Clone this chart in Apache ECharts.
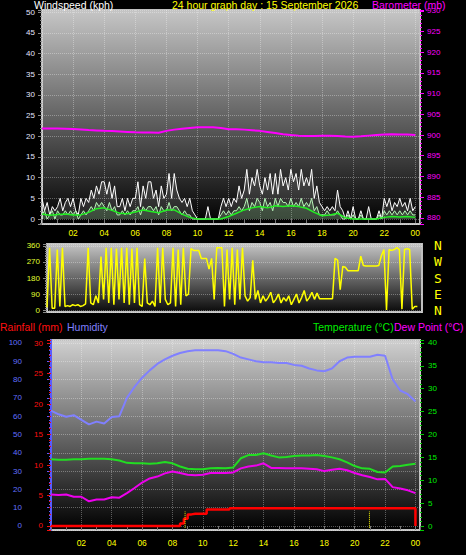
<!DOCTYPE html>
<html><head><meta charset="utf-8">
<script src="https://cdn.jsdelivr.net/npm/echarts@6/dist/echarts.min.js"></script>
<style>html,body{margin:0;padding:0;background:#000;}#c{width:466px;height:555px;}</style>
</head><body><div id="c"></div>
<script>
// ---------- text ----------
const titleWind = 'Windspeed (kph)';
const titleMain = '24 hour graph day : 15 September 2026';
const titleBaro = 'Barometer (mb)';
const titleRain = 'Rainfall (mm)';
const titleHum = 'Humidity';
const titleTemp = 'Temperature (°C)';
const titleDew = 'Dew Point (°C)';
const hourLabels = ['02','04','06','08','10','12','14','16','18','20','22','00'];
const compassLabels = ['N','E','S','W','N']; // 0,90,180,270,360

// ---------- data ----------
// gust & wind: every 10 minutes from 00:00 to 24:00 (kph)
const gust = [5,2,4,1,3,2, 3,5,2,4,5,3, 5,2,1,5,3,5, 4,7,5,8,6,9, 9,6,9,5,8,3, 3,5,2,5,3,5,
  5,9,3,8,5,9, 9,5,7,3,8,5, 6,11,5,11,7,5, 4,5,3,5,2,1, 0,0,0,0,3,0, 0,0,0,3,5,3,
  5,3,5,4,8,5, 7,12,6,10,8,12, 8,6,10,7,11,6, 11,6,12,8,10,7, 12,9,11,7,12,8, 10,8,12,5,8,4,
  3,2,3,2,3,2, 7,3,2,0,2,0, 3,0,0,2,0,0, 3,0,0,0,2,0, 5,3,5,2,4,3, 5,3,4,2,5,2, 3];
const wind = [1,2,0,1,2,0, 2,1,1,2,1,2, 1,2,0,1,2,1, 2,3,2,4,3,4, 3,2,4,2,3,1, 1,2,1,2,1,2,
  2,3,1,3,2,3, 3,2,3,1,3,2, 2,4,2,3,3,2, 1,2,1,1,0,0, 0,0,0,0,0,0, 0,0,0,1,2,1,
  2,1,2,2,3,2, 3,5,2,4,3,5, 4,2,5,3,4,2, 5,3,5,4,4,3, 5,3,4,3,5,3, 4,3,5,2,3,1,
  1,1,2,1,1,1, 2,1,0,0,1,0, 1,0,0,1,0,0, 0,0,0,0,1,0, 2,1,2,1,2,1, 2,1,2,1,2,1, 1];
// average wind: every 30 minutes (kph)
const avgWind = [1.2,0.9,1.1,1.2,1.0,1.0,1.6,2.5,2.7,2.1,1.4,1.3,1.7,2.2,1.8,1.5,2.2,2.2,1.2,0.4,
  0,0,0,0,0.6,1.4,2.2,2.7,3.0,2.7,3.2,3.0,3.2,3.0,2.6,1.6,0.8,1.0,1.4,0.3,0,0,0,0,0.4,0.6,0.5,0.6,0.4];
// barometer: every 30 minutes (mb)
const baro = [901.6,901.6,901.55,901.5,901.45,901.35,901.2,901.1,901.0,900.95,900.85,900.75,900.65,900.6,900.6,900.55,
  901.0,901.3,901.5,901.7,901.85,901.9,901.85,901.7,901.4,901.4,901.3,901.15,901.0,900.75,900.5,900.2,900.0,
  899.85,899.75,899.75,899.8,899.8,899.75,899.65,899.6,899.7,899.85,900.0,900.15,900.2,900.15,900.1,900.0];
// wind direction: every 10 minutes (degrees)
const direction = [15,350,10,10,340,20, 350,20,25,20,30,25, 30,20,25,35,350,40, 30,80,40,300,60,350,
  40,350,30,345,60,350, 40,350,30,345,40,350, 30,20,290,40,30,50, 20,350,40,350,60,30,
  40,350,20,340,30,350, 80,90,345,335,335,335, 290,290,290,230,290,60, 350,350,350,20,340,60,
  350,30,340,60,350,80, 50,70,280,60,110,40, 80,50,70,100,40,60, 90,40,70,50,80,30,
  60,90,40,70,110,50, 70,100,60,95,63,63, 63,63,63,63,290,280, 114,245,240,221,221,221,
  221,221,303,250,247,247, 247,247,247,250,305,340, 0,340,335,340,350,340, 5,340,345,340,5,20, 20];
// humidity, temperature, dew point: every 30 minutes
const humidity = [63,61,59.7,60.5,58,55.5,57,56,59.5,60,70,76,81,85,88.5,91,93,94.5,95.5,96,96,96,96,95.5,
  94,92,91,90,89.5,89.5,89,89,88,87.5,86,85,84.5,86,90,92,92.5,92.5,92.5,93.5,93,80,74,72,68];
const temperature = [14.6,14.5,14.5,14.6,14.6,14.7,14.7,14.7,14.6,14.3,13.8,13.7,13.7,13.6,13.7,14.0,13.7,13.0,12.5,12.4,
  12.4,12.6,12.7,12.6,12.8,14.8,15.5,15.5,15.9,15.4,15.0,15.1,15.3,15.4,15.4,15.5,15.3,15.0,14.6,13.9,
  13.1,12.6,12.5,11.8,11.7,13.0,13.1,13.4,13.6];
const dewPoint = [6.9,6.8,6.9,6.4,6.4,5.4,5.8,5.8,6.3,6.2,7.2,8.3,9.5,10.4,10.8,11.5,11.9,11.6,11.2,11.1,
  11.2,11.6,11.6,11.6,11.7,12.6,13.0,13.2,13.7,12.7,12.7,12.6,12.6,12.6,12.5,12.4,12.0,12.3,12.5,12.2,
  11.6,11.1,10.7,10.2,10.3,8.5,8.2,7.8,7.2];
// rainfall: every 15 minutes (mm)
const rainfall = [0,0,0,0,0,0,0,0,0,0, 0,0,0,0,0,0,0,0,0,0, 0,0,0,0,0,0,0,0,0,0, 0,0,0,0,
  0.4,1.2,1.9,2.0,2.0,2.0,2.0, 2.7,2.7,2.7,2.7,2.7,2.7,
  2.9,2.9,2.9,2.9,2.9,2.9,2.9,2.9,2.9,2.9,2.9,2.9, 2.9,2.9,2.9,2.9,2.9,2.9,2.9,2.9,2.9,2.9,2.9,2.9,
  2.9,2.9,2.9,2.9,2.9,2.9,2.9,2.9,2.9,2.9,2.9,2.9, 2.9,2.9,2.9,2.9,2.9,2.9,2.9,2.9,2.9,2.9,2.9,2.9, 2.9, 0];
// yellow dotted markers (hours) and their span on rainfall scale
const markerHours = [8.83, 20.97];
const markerSpan = [-0.3, 2.4];

// ---------- build ----------
const toPairs = (arr, step) => arr.map((v, i) => [Math.round(i * step * 10000) / 10000, v]);
const grad = (c0, c1) => new echarts.graphic.LinearGradient(0, 0, 0, 1, [{offset: 0, color: c0}, {offset: 1, color: c1}]);
const isMult = (v, m) => Math.abs(v / m - Math.round(v / m)) < 1e-6;
const FONT = 'Liberation Sans';
const LABEL_SIZE = 8;
const dotted = {color: 'rgba(255,255,255,0.32)', type: 'dotted', width: 1};

function hourFmt(v) {
  if (!isMult(v, 2)) return '';
  const r = Math.round(v);
  if (r <= 0) return '';
  return hourLabels[r / 2 - 1] || '';
}
function xAxisFor(gi, showLabel, margin, showSplit) {
  return {
    type: 'value', gridIndex: gi, min: 0, max: 24.3, minInterval: 2, maxInterval: 2,
    axisLine: {show: false},
    axisTick: {show: showLabel, length: 4, lineStyle: {color: '#777'}},
    minorTick: {show: showLabel, splitNumber: 2, length: 4, lineStyle: {color: '#777'}},
    axisLabel: {show: showLabel, color: '#ffff00', fontSize: LABEL_SIZE + 0.5, fontFamily: FONT, margin: margin, formatter: hourFmt,
      showMinLabel: false, showMaxLabel: false},
    splitLine: {show: showSplit, lineStyle: dotted}
  };
}
function yAxisFor(o) {
  const step = o.step;
  return Object.assign({
    type: 'value', minInterval: step, maxInterval: step,
    axisLine: {show: false},
    axisTick: {show: true, length: 4, lineStyle: {color: o.tick}},
    minorTick: {show: true, splitNumber: o.minor || 5, length: 2, lineStyle: {color: o.tick}},
    axisLabel: {color: o.color, fontSize: LABEL_SIZE, fontFamily: FONT, margin: o.margin,
      formatter: v => isMult(v, step) ? String(Math.round(v)) : ''},
    splitLine: {show: !!o.split, lineStyle: dotted}
  }, o.extra || {});
}

const texts = [
  [titleWind, 34, 5, '#ffffff'], [titleMain, 172, 5, '#ffff00'], [titleBaro, 372, 5, '#ff00ff'],
  [titleRain, 0, 327, '#ff1010'], [titleHum, 67, 327, '#8080ff'], [titleTemp, 313, 327, '#00ee00'], [titleDew, 394, 327, '#ff00ff']
];

const option = {
  backgroundColor: '#000',
  animation: false,
  graphic: texts.map(t => ({type: 'text', left: t[1], top: t[2] - 6, silent: true,
    style: {text: t[0], fill: t[3], font: '10.5px "' + FONT + '"'}})),
  grid: [
    {left: 42, top: 10, width: 378, height: 214, show: true, backgroundColor: grad('#c6c6c6', '#000'), borderColor: '#c0c0c0', borderWidth: 2},
    {left: 47, top: 244, width: 375, height: 68, show: true, backgroundColor: grad('#c4c4c4', '#0a0a0a'), borderColor: '#c0c0c0', borderWidth: 2},
    {left: 51, top: 340, width: 369, height: 190, show: true, backgroundColor: grad('#d0d0d0', '#000'), borderColor: '#c0c0c0', borderWidth: 2}
  ],
  xAxis: [xAxisFor(0, true, 4, true), xAxisFor(1, false, 4, false), xAxisFor(2, true, 8, true)],
  yAxis: [
    yAxisFor({step: 5, tick: '#888', color: '#e4e4ff', margin: 7, split: true,
      extra: {gridIndex: 0, position: 'left', min: -1.2, max: 50.5}}),
    yAxisFor({step: 5, tick: '#ff00ff', color: '#ff00ff', margin: 7,
      extra: {gridIndex: 0, position: 'right', min: 878.5, max: 930.2}}),
    yAxisFor({step: 90, tick: '#888', color: '#e0ff30', margin: 7, split: true, minor: 9,
      extra: {gridIndex: 1, position: 'left', min: -11, max: 371}}),
    {type: 'value', gridIndex: 1, position: 'right', min: -11, max: 371, minInterval: 90, maxInterval: 90,
      axisLine: {show: false}, axisTick: {show: false}, splitLine: {show: false},
      axisLabel: {color: '#ffff00', fontSize: 13, fontFamily: 'DejaVu Sans Mono', margin: 12,
        formatter: v => isMult(v, 90) ? (compassLabels[Math.round(v / 90)] || '') : ''}},
    yAxisFor({step: 10, tick: '#5a5aff', color: '#6070ff', margin: 8, split: true,
      extra: {gridIndex: 2, position: 'left', offset: 21, min: -2.2, max: 101.6,
        axisLine: {show: true, lineStyle: {color: '#5a5aff', width: 2}}}}),
    yAxisFor({step: 5, tick: '#ee1010', color: '#ff1010', margin: 8,
      extra: {gridIndex: 2, position: 'left', min: -0.66, max: 30.5}}),
    yAxisFor({step: 5, tick: '#00cc00', color: '#00ee00', margin: 8,
      extra: {gridIndex: 2, position: 'right', min: -0.87, max: 40.65}})
  ],
  series: [
    {name: 'Gust', type: 'line', xAxisIndex: 0, yAxisIndex: 0, data: toPairs(gust, 1 / 6), showSymbol: false,
      lineStyle: {color: '#ffffff', width: 1}, areaStyle: {color: 'rgba(255,255,255,0.18)'}},
    {name: 'Wind', type: 'line', xAxisIndex: 0, yAxisIndex: 0, data: toPairs(wind, 1 / 6), showSymbol: false,
      lineStyle: {color: '#b8f5b8', width: 1}, areaStyle: {color: 'rgba(170,255,170,0.25)'}},
    {name: 'Average', type: 'line', xAxisIndex: 0, yAxisIndex: 0, data: toPairs(avgWind, 0.5), showSymbol: false,
      lineStyle: {color: '#22ee22', width: 1.5}},
    {name: 'Barometer', type: 'line', xAxisIndex: 0, yAxisIndex: 1, data: toPairs(baro, 0.5), showSymbol: false,
      lineStyle: {color: '#ff00ff', width: 2}},
    {name: 'Direction', type: 'line', xAxisIndex: 1, yAxisIndex: 2, data: toPairs(direction, 1 / 6), showSymbol: false,
      lineStyle: {color: '#ffff00', width: 1.5}},
    {name: 'Humidity', type: 'line', xAxisIndex: 2, yAxisIndex: 4, data: toPairs(humidity, 0.5), showSymbol: false,
      lineStyle: {color: '#8080ff', width: 2}},
    {name: 'Temperature', type: 'line', xAxisIndex: 2, yAxisIndex: 6, data: toPairs(temperature, 0.5), showSymbol: false,
      lineStyle: {color: '#22dd22', width: 2}},
    {name: 'Dew Point', type: 'line', xAxisIndex: 2, yAxisIndex: 6, data: toPairs(dewPoint, 0.5), showSymbol: false,
      lineStyle: {color: '#ee00ee', width: 2}},
    {name: 'Rainfall', type: 'line', xAxisIndex: 2, yAxisIndex: 5, data: toPairs(rainfall, 0.25), showSymbol: false,
      step: 'end', lineStyle: {color: '#ff0000', width: 2.5}}
  ].concat(markerHours.map(h => ({
    type: 'line', xAxisIndex: 2, yAxisIndex: 5, showSymbol: false, silent: true,
    data: markerSpan.map(v => [h, v]), lineStyle: {color: '#ffff00', width: 1, type: 'dotted'}
  })))
};
const chart = echarts.init(document.getElementById('c'), null, {renderer: 'svg'});
chart.setOption(option);
</script>
</body></html>
